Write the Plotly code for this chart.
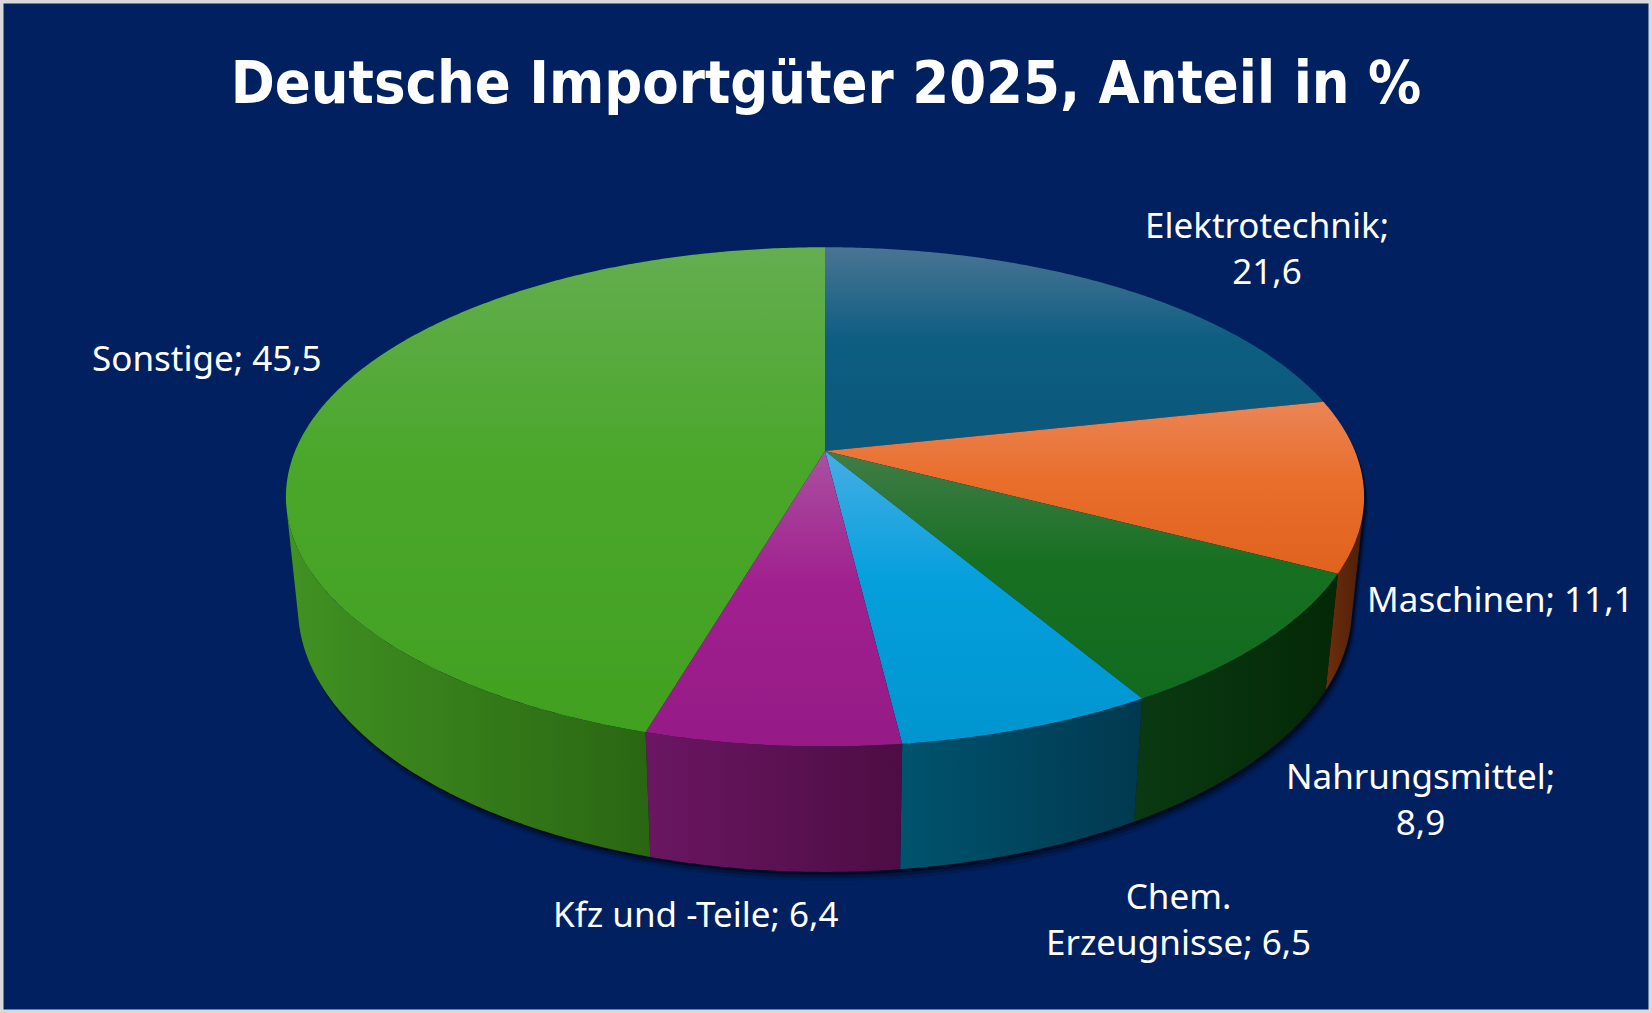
import numpy as np
import plotly.graph_objects as go

# data (share of German imports 2025, %)
labels = ['Elektrotechnik', 'Maschinen', 'Nahrungsmittel', 'Chem. Erzeugnisse', 'Kfz und -Teile', 'Sonstige']
values = [21.6, 11.1, 8.9, 6.5, 6.4, 45.5]
label_heads = ['Elektrotechnik;<br>', 'Maschinen; ', 'Nahrungsmittel;<br>', 'Chem.<br>Erzeugnisse; ',
               'Kfz und -Teile; ', 'Sonstige; ']

# top colours: light (upper edge), main, lower
top_colors = [
    ('#4a7493', '#0e5e82', '#0a587b'),
    ('#ea8556', '#e96e2c', '#e0621e'),
    ('#427c48', '#177022', '#126a1e'),
    ('#45aee4', '#049fdc', '#0095cf'),
    ('#ab50a0', '#a0208f', '#951a86'),
    ('#64ae50', '#4aa72a', '#42a021'),
]
# side wall colours: left, right
wall_colors = [
    ('#163f5a', '#0d3048'),
    ('#6e2e0c', '#4e1f08'),
    ('#0a3a12', '#042806'),
    ('#00536e', '#00394f'),
    ('#6b1662', '#4d0d44'),
    ('#409222', '#2a6612'),
]

label_pos = [(1267, 247), (1365, 598), (1420, 798), (1178, 918), (695, 913), (207, 357)]
label_anchor = ['center', 'left', 'center', 'center', 'center', 'center']

W, H = 1652, 1013
BG = '#002060'

# simple perspective view of a tilted disc
alpha = np.radians(27.07)
c, s = np.cos(alpha), np.sin(alpha)
D = 4.85
f = 2570
cx, cy = 825, 451
depth = 0.237


def proj(u, v, w):
    zc = D + v * c - w * s
    return cx + f * u / zc, cy - f * (v * s + w * c) / zc


def arc(a0, a1, w):
    n = max(int(abs(a1 - a0) / 0.5), 2) + 1
    th = np.radians(np.linspace(a0, a1, n))
    return proj(np.sin(th), np.cos(th), w)


vis_lo = np.degrees(np.arccos(-1 / (D * c)))
vis_hi = 360 - vis_lo

total = sum(values)
edges = np.concatenate([[0], np.cumsum(values)]) / total * 360

fig = go.Figure()

# soft shadow under the disc
bx, by = arc(vis_lo, vis_hi, -depth)
tx, ty = arc(vis_hi, vis_lo + 360, 0)
sil_x = np.concatenate([bx, tx])
sil_y = np.concatenate([by, ty])
for dx, dy, op in [(4, 9, 0.12), (3, 6, 0.22), (2, 3, 0.4)]:
    fig.add_trace(go.Scatter(x=sil_x + dx, y=sil_y + dy, fill='toself', mode='none',
                             fillcolor='rgba(0,0,0,%s)' % op, hoverinfo='skip', showlegend=False))

# side walls
for i in range(len(values)):
    a0, a1 = max(edges[i], vis_lo), min(edges[i + 1], vis_hi)
    if a1 <= a0:
        continue
    ux, uy = arc(a0, a1, 0)
    lx, ly = arc(a1, a0, -depth)
    fig.add_trace(go.Scatter(
        x=np.concatenate([ux, lx]), y=np.concatenate([uy, ly]),
        fill='toself', mode='none', hoverinfo='skip', showlegend=False,
        fillgradient=dict(type='horizontal',
                          colorscale=[[0, wall_colors[i][0]], [1, wall_colors[i][1]]]),
    ))

# top faces
for i in range(len(values)):
    ax, ay = arc(edges[i], edges[i + 1], 0)
    px, py = proj(0, 0, 0)
    light, main, low = top_colors[i]
    fig.add_trace(go.Scatter(
        x=np.concatenate([[px], ax, [px]]), y=np.concatenate([[py], ay, [py]]),
        fill='toself', mode='none', name=labels[i], showlegend=False,
        hoveron='fills', text='%s: %s' % (labels[i], values[i]), hoverinfo='text',
        fillgradient=dict(type='vertical',
                          colorscale=[[0, low], [0.55, main], [1, light]]),
    ))

# data labels
for i in range(len(values)):
    txt = label_heads[i] + ('%.1f' % values[i]).replace('.', ',')
    fig.add_annotation(x=label_pos[i][0], y=label_pos[i][1], text=txt, showarrow=False,
                       xanchor=label_anchor[i], yanchor='middle', align='center',
                       font=dict(family='Noto Sans', size=35, color='white'))

fig.update_layout(
    width=W, height=H,
    margin=dict(l=0, r=0, t=0, b=0),
    paper_bgcolor=BG, plot_bgcolor=BG,
    xaxis=dict(range=[0, W], visible=False, fixedrange=True),
    yaxis=dict(range=[H, 0], visible=False, fixedrange=True),
    title=dict(text='<b>Deutsche Importgüter 2025, Anteil in %</b>', x=0.5, xanchor='center',
               y=1 - 82 / H, yanchor='middle',
               font=dict(family='DejaVu Sans Condensed, sans-serif', size=59, color='white')),
    shapes=[dict(type='rect', xref='paper', yref='paper', x0=0, x1=1, y0=0, y1=1,
                 line=dict(color='#d9d9d9', width=7))],
)

fig.write_html('out.html', config={'displayModeBar': False},
               post_script="document.body.style.margin='0';")
